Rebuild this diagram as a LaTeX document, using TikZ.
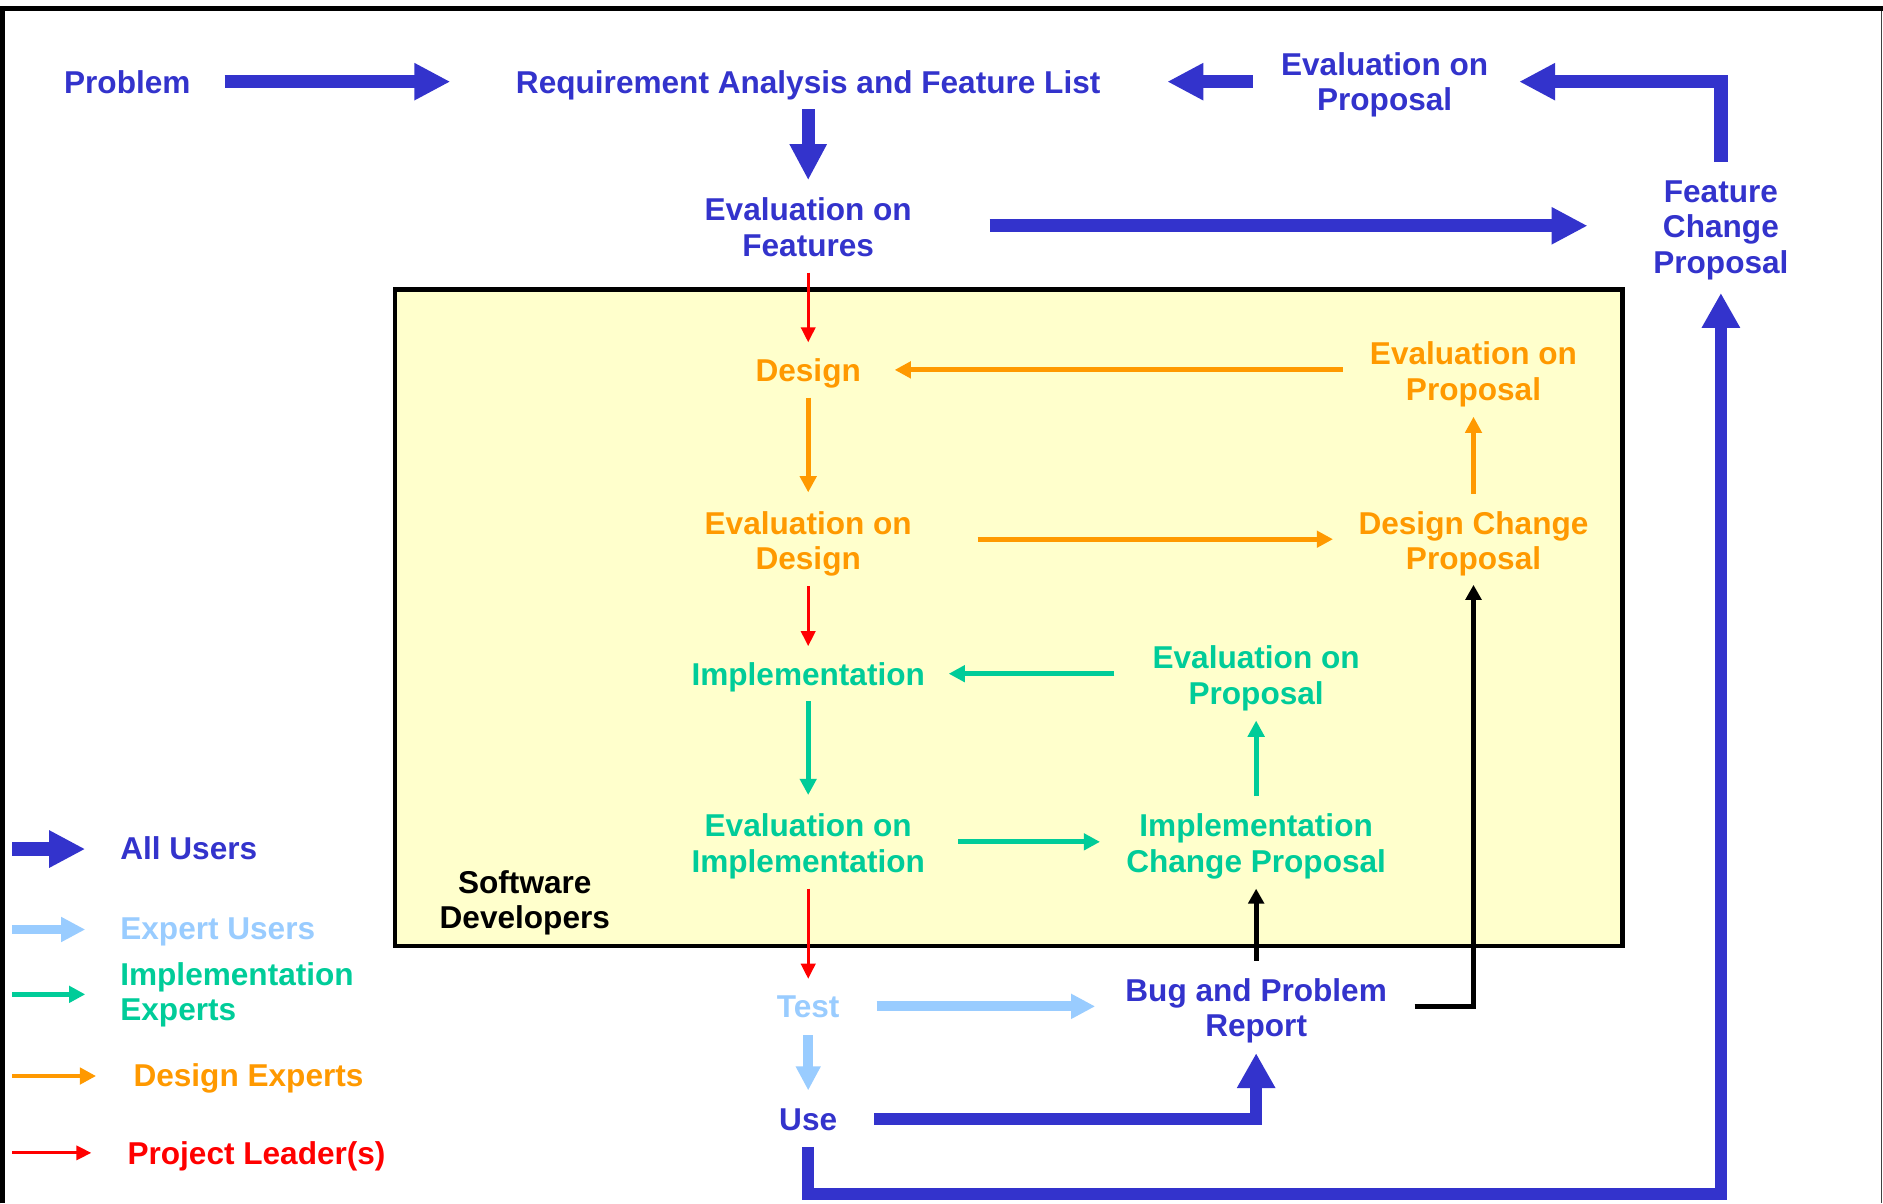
\documentclass[tikz,border=0pt]{standalone}
\usepackage{fontspec}
\setmainfont{Liberation Sans}
\usetikzlibrary{arrows.meta,calc}

\definecolor{allblue}{HTML}{3333CC}
\definecolor{expblue}{HTML}{99CCFF}
\definecolor{impgreen}{HTML}{00CC99}
\definecolor{desorange}{HTML}{FF9900}
\definecolor{leadred}{HTML}{FF0000}
\definecolor{devyellow}{HTML}{FFFFCC}

\tikzset{
  lbl/.style={font=\fontsize{26.3}{29.5}\selectfont\bfseries, align=center, inner sep=0pt, text depth=0pt},
  legend/.style={lbl, anchor=west, align=left},
  allarrow/.style={draw=allblue, line width=11pt, -{Triangle[length=30pt,width=29pt]}},
  allline/.style={draw=allblue, line width=10pt, -{Triangle[length=29pt,width=30pt]}},
  exparrow/.style={draw=expblue, line width=8.3pt, -{Triangle[length=20pt,width=19.5pt]}},
  imparrow/.style={draw=impgreen, line width=4pt, -{Triangle[length=13.5pt,width=13.5pt]}},
  desarrow/.style={draw=desorange, line width=4pt, -{Triangle[length=13.5pt,width=13.5pt]}},
  leadarrow/.style={draw=leadred, line width=2.3pt, -{Triangle[length=12.5pt,width=12pt]}},
  bugarrow/.style={draw=black, line width=4pt, -{Triangle[length=12.5pt,width=13pt]}},
}

\begin{document}
\begin{tikzpicture}[x=1pt, y=-1pt]
\useasboundingbox (0,0) rectangle (1568,1002);

% outer frame
\draw[line width=4pt] (2,1002) -- (2,7) -- (1568,7);
\draw[black!75, line width=1pt] (1566.5,9) -- (1566.5,1002);

% software developers area
\draw[fill=devyellow, line width=3.5pt] (329,241) rectangle (1351,788);

% nodes
\node[lbl, text=allblue] (prob) at (106,68) {Problem};
\node[lbl, text=allblue] (req)  at (673,68) {Requirement Analysis and Feature List};
\node[lbl, text=allblue] (evp1) at (1153,68) {Evaluation on\\Proposal};
\node[lbl, text=allblue] (evf)  at (673,189) {Evaluation on\\Features};
\node[lbl, text=allblue] (fcp)  at (1433,189) {Feature\\Change\\Proposal};

\node[lbl, text=desorange] (des)  at (673,308) {Design};
\node[lbl, text=desorange] (evp2) at (1227,309) {Evaluation on\\Proposal};
\node[lbl, text=desorange] (evd)  at (673,450) {Evaluation on\\Design};
\node[lbl, text=desorange] (dcp)  at (1227,450) {Design Change\\Proposal};

\node[lbl, text=impgreen] (imp)  at (673,561) {Implementation};
\node[lbl, text=impgreen] (evp3) at (1046,562) {Evaluation on\\Proposal};
\node[lbl, text=impgreen] (evi)  at (673,702) {Evaluation on\\Implementation};
\node[lbl, text=impgreen] (icp)  at (1046,702) {Implementation\\Change Proposal};

\node[lbl, text=black] (sd) at (437,749) {Software\\Developers};

\node[lbl, text=expblue] (test) at (673,838) {Test};
\node[lbl, text=allblue] (bug)  at (1046,839) {Bug and Problem\\Report};
\node[lbl, text=allblue] (use)  at (673,932) {Use};

% legend
\node[legend, text=allblue]   (lgall)  at (100,706) {All Users};
\node[legend, text=expblue]   (lgexp)  at (100,773) {Expert Users};
\node[legend, text=impgreen]  (lgimp)  at (100,825.5) {Implementation\\Experts};
\node[legend, text=desorange] (lgdes)  at (111,895) {Design Experts};
\node[legend, text=leadred]   (lglead) at (106,960) {Project Leader(s)};

\draw[allarrow]  ($(lgall.west)+(-90,1)$) -- ($(lgall.west)+(-29,1)$);
\draw[exparrow]  ($(lgexp.west)+(-90,1)$) -- ($(lgexp.west)+(-29,1)$);
\draw[imparrow]  ($(lgimp.west)+(-90,2.5)$) -- ($(lgimp.west)+(-29,2.5)$);
\draw[desarrow]  ($(lgdes.west)+(-101,1)$) -- ($(lgdes.west)+(-31,1)$);
\draw[leadarrow] ($(lglead.west)+(-96,0)$) -- ($(lglead.west)+(-30,0)$);

% all users
\draw[allarrow] ($(prob)+(81,0)$) -- ($(req)+(-298,0)$);
\draw[allarrow] ($(req)+(0,23)$) -- ($(evf)+(0,-39)$);
\draw[allarrow] ($(evp1)+(-110,0)$) -- ($(req)+(299,0)$);
\draw[allarrow] ($(fcp)+(0,-54)$) |- ($(evp1)+(112,0)$);
\draw[allarrow] ($(evf)+(151,-1)$) -- ($(fcp)+(-111,-1)$);
\draw[allline]  ($(use)+(0,23)$) -- ++(0,39) -| ($(fcp)+(0,55)$);
\draw[allline]  ($(use)+(55,0)$) -| ($(bug)+(0,38)$);

% expert users
\draw[exparrow] ($(test)+(57,0)$) -- ($(bug)+(-134,-1)$);
\draw[exparrow] ($(test)+(0,24)$) -- ($(use)+(0,-24)$);

% bug reports
\draw[bugarrow] ($(bug)+(0,-39)$) -- ($(icp)+(0,38)$);
\draw[bugarrow] ($(bug)+(132,-1)$) -| ($(dcp)+(0,37)$);

% project leaders
\draw[leadarrow] ($(evf)+(0,38)$) -- ($(des)+(0,-23)$);
\draw[leadarrow] ($(evd)+(0,38)$) -- ($(imp)+(0,-23)$);
\draw[leadarrow] ($(evi)+(0,38)$) -- ($(test)+(0,-23)$);

% design experts
\draw[desarrow] ($(evp2)+(-109,-1)$) -- ($(des)+(72,0)$);
\draw[desarrow] ($(des)+(0,23)$) -- ($(evd)+(0,-40)$);
\draw[desarrow] ($(evd)+(141,-1)$) -- ($(dcp)+(-117,-1)$);
\draw[desarrow] ($(dcp)+(0,-39)$) -- ($(evp2)+(0,38)$);

% implementation experts
\draw[imparrow] ($(evp3)+(-118,-1)$) -- ($(imp)+(117,0)$);
\draw[imparrow] ($(imp)+(0,23)$) -- ($(evi)+(0,-40)$);
\draw[imparrow] ($(evi)+(125,-1)$) -- ($(icp)+(-130,-1)$);
\draw[imparrow] ($(icp)+(0,-39)$) -- ($(evp3)+(0,38)$);
\end{tikzpicture}
\end{document}
